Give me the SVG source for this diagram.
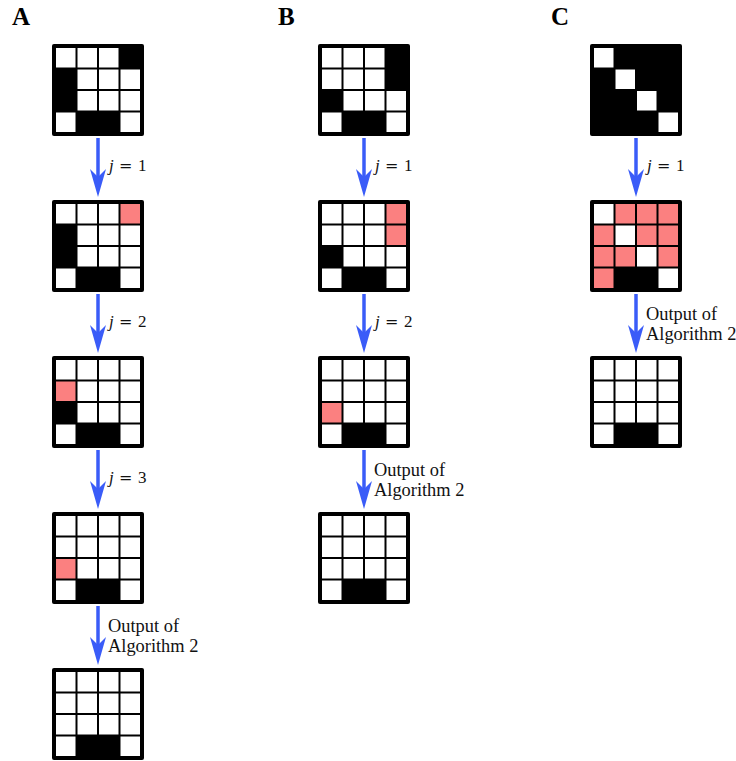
<svg xmlns="http://www.w3.org/2000/svg" width="736" height="761" viewBox="0 0 736 761">
<style>
.f{fill:#000}
.w{fill:#fff}
.r{fill:#fb8080}
.sh{stroke:#3a5cf8;stroke-width:3.5;fill:none}
.hd{fill:#3a5cf8}
.lbl{font-family:"Liberation Serif","Times New Roman",serif;font-size:17px;fill:#111}
.out{font-size:18.4px}
.eq{font-family:"DejaVu Serif",serif;font-size:16px}
.pl{font-family:"Liberation Serif","Times New Roman",serif;font-size:25px;font-weight:bold;fill:#000}
</style>
<rect width="736" height="761" fill="#fff"/>
<text class="pl" x="12" y="25">A</text>
<text class="pl" x="278" y="25">B</text>
<text class="pl" x="551" y="25">C</text>

<!-- Column A -->
<g id="A1" transform="translate(52,44)">
<rect class="f" width="92" height="92" rx="2"/>
<rect class="w" x="4" y="4" width="19.5" height="19.5"/><rect class="w" x="25.5" y="4" width="19.5" height="19.5"/><rect class="w" x="47" y="4" width="19.5" height="19.5"/>
<rect class="w" x="25.5" y="25.5" width="19.5" height="19.5"/><rect class="w" x="47" y="25.5" width="19.5" height="19.5"/><rect class="w" x="68.5" y="25.5" width="19.5" height="19.5"/>
<rect class="w" x="25.5" y="47" width="19.5" height="19.5"/><rect class="w" x="47" y="47" width="19.5" height="19.5"/><rect class="w" x="68.5" y="47" width="19.5" height="19.5"/>
<rect class="w" x="4" y="68.5" width="19.5" height="19.5"/><rect class="w" x="68.5" y="68.5" width="19.5" height="19.5"/>
</g>
<g id="A2" transform="translate(52,200)">
<rect class="f" width="92" height="92" rx="2"/>
<rect class="w" x="4" y="4" width="19.5" height="19.5"/><rect class="w" x="25.5" y="4" width="19.5" height="19.5"/><rect class="w" x="47" y="4" width="19.5" height="19.5"/><rect class="r" x="68.5" y="4" width="19.5" height="19.5"/>
<rect class="w" x="25.5" y="25.5" width="19.5" height="19.5"/><rect class="w" x="47" y="25.5" width="19.5" height="19.5"/><rect class="w" x="68.5" y="25.5" width="19.5" height="19.5"/>
<rect class="w" x="25.5" y="47" width="19.5" height="19.5"/><rect class="w" x="47" y="47" width="19.5" height="19.5"/><rect class="w" x="68.5" y="47" width="19.5" height="19.5"/>
<rect class="w" x="4" y="68.5" width="19.5" height="19.5"/><rect class="w" x="68.5" y="68.5" width="19.5" height="19.5"/>
</g>
<g id="A3" transform="translate(52,356)">
<rect class="f" width="92" height="92" rx="2"/>
<rect class="w" x="4" y="4" width="19.5" height="19.5"/><rect class="w" x="25.5" y="4" width="19.5" height="19.5"/><rect class="w" x="47" y="4" width="19.5" height="19.5"/><rect class="w" x="68.5" y="4" width="19.5" height="19.5"/>
<rect class="r" x="4" y="25.5" width="19.5" height="19.5"/><rect class="w" x="25.5" y="25.5" width="19.5" height="19.5"/><rect class="w" x="47" y="25.5" width="19.5" height="19.5"/><rect class="w" x="68.5" y="25.5" width="19.5" height="19.5"/>
<rect class="w" x="25.5" y="47" width="19.5" height="19.5"/><rect class="w" x="47" y="47" width="19.5" height="19.5"/><rect class="w" x="68.5" y="47" width="19.5" height="19.5"/>
<rect class="w" x="4" y="68.5" width="19.5" height="19.5"/><rect class="w" x="68.5" y="68.5" width="19.5" height="19.5"/>
</g>
<g id="A4" transform="translate(52,512)">
<rect class="f" width="92" height="92" rx="2"/>
<rect class="w" x="4" y="4" width="19.5" height="19.5"/><rect class="w" x="25.5" y="4" width="19.5" height="19.5"/><rect class="w" x="47" y="4" width="19.5" height="19.5"/><rect class="w" x="68.5" y="4" width="19.5" height="19.5"/>
<rect class="w" x="4" y="25.5" width="19.5" height="19.5"/><rect class="w" x="25.5" y="25.5" width="19.5" height="19.5"/><rect class="w" x="47" y="25.5" width="19.5" height="19.5"/><rect class="w" x="68.5" y="25.5" width="19.5" height="19.5"/>
<rect class="r" x="4" y="47" width="19.5" height="19.5"/><rect class="w" x="25.5" y="47" width="19.5" height="19.5"/><rect class="w" x="47" y="47" width="19.5" height="19.5"/><rect class="w" x="68.5" y="47" width="19.5" height="19.5"/>
<rect class="w" x="4" y="68.5" width="19.5" height="19.5"/><rect class="w" x="68.5" y="68.5" width="19.5" height="19.5"/>
</g>
<g id="A5" transform="translate(52,668)">
<rect class="f" width="92" height="92" rx="2"/>
<rect class="w" x="4" y="4" width="19.5" height="19.5"/><rect class="w" x="25.5" y="4" width="19.5" height="19.5"/><rect class="w" x="47" y="4" width="19.5" height="19.5"/><rect class="w" x="68.5" y="4" width="19.5" height="19.5"/>
<rect class="w" x="4" y="25.5" width="19.5" height="19.5"/><rect class="w" x="25.5" y="25.5" width="19.5" height="19.5"/><rect class="w" x="47" y="25.5" width="19.5" height="19.5"/><rect class="w" x="68.5" y="25.5" width="19.5" height="19.5"/>
<rect class="w" x="4" y="47" width="19.5" height="19.5"/><rect class="w" x="25.5" y="47" width="19.5" height="19.5"/><rect class="w" x="47" y="47" width="19.5" height="19.5"/><rect class="w" x="68.5" y="47" width="19.5" height="19.5"/>
<rect class="w" x="4" y="68.5" width="19.5" height="19.5"/><rect class="w" x="68.5" y="68.5" width="19.5" height="19.5"/>
</g>

<!-- Column B -->
<g id="B1" transform="translate(318,44)">
<rect class="f" width="92" height="92" rx="2"/>
<rect class="w" x="4" y="4" width="19.5" height="19.5"/><rect class="w" x="25.5" y="4" width="19.5" height="19.5"/><rect class="w" x="47" y="4" width="19.5" height="19.5"/>
<rect class="w" x="4" y="25.5" width="19.5" height="19.5"/><rect class="w" x="25.5" y="25.5" width="19.5" height="19.5"/><rect class="w" x="47" y="25.5" width="19.5" height="19.5"/>
<rect class="w" x="25.5" y="47" width="19.5" height="19.5"/><rect class="w" x="47" y="47" width="19.5" height="19.5"/><rect class="w" x="68.5" y="47" width="19.5" height="19.5"/>
<rect class="w" x="4" y="68.5" width="19.5" height="19.5"/><rect class="w" x="68.5" y="68.5" width="19.5" height="19.5"/>
</g>
<g id="B2" transform="translate(318,200)">
<rect class="f" width="92" height="92" rx="2"/>
<rect class="w" x="4" y="4" width="19.5" height="19.5"/><rect class="w" x="25.5" y="4" width="19.5" height="19.5"/><rect class="w" x="47" y="4" width="19.5" height="19.5"/><rect class="r" x="68.5" y="4" width="19.5" height="19.5"/>
<rect class="w" x="4" y="25.5" width="19.5" height="19.5"/><rect class="w" x="25.5" y="25.5" width="19.5" height="19.5"/><rect class="w" x="47" y="25.5" width="19.5" height="19.5"/><rect class="r" x="68.5" y="25.5" width="19.5" height="19.5"/>
<rect class="w" x="25.5" y="47" width="19.5" height="19.5"/><rect class="w" x="47" y="47" width="19.5" height="19.5"/><rect class="w" x="68.5" y="47" width="19.5" height="19.5"/>
<rect class="w" x="4" y="68.5" width="19.5" height="19.5"/><rect class="w" x="68.5" y="68.5" width="19.5" height="19.5"/>
</g>
<g id="B3" transform="translate(318,356)">
<rect class="f" width="92" height="92" rx="2"/>
<rect class="w" x="4" y="4" width="19.5" height="19.5"/><rect class="w" x="25.5" y="4" width="19.5" height="19.5"/><rect class="w" x="47" y="4" width="19.5" height="19.5"/><rect class="w" x="68.5" y="4" width="19.5" height="19.5"/>
<rect class="w" x="4" y="25.5" width="19.5" height="19.5"/><rect class="w" x="25.5" y="25.5" width="19.5" height="19.5"/><rect class="w" x="47" y="25.5" width="19.5" height="19.5"/><rect class="w" x="68.5" y="25.5" width="19.5" height="19.5"/>
<rect class="r" x="4" y="47" width="19.5" height="19.5"/><rect class="w" x="25.5" y="47" width="19.5" height="19.5"/><rect class="w" x="47" y="47" width="19.5" height="19.5"/><rect class="w" x="68.5" y="47" width="19.5" height="19.5"/>
<rect class="w" x="4" y="68.5" width="19.5" height="19.5"/><rect class="w" x="68.5" y="68.5" width="19.5" height="19.5"/>
</g>
<g id="B4" transform="translate(318,512)">
<rect class="f" width="92" height="92" rx="2"/>
<rect class="w" x="4" y="4" width="19.5" height="19.5"/><rect class="w" x="25.5" y="4" width="19.5" height="19.5"/><rect class="w" x="47" y="4" width="19.5" height="19.5"/><rect class="w" x="68.5" y="4" width="19.5" height="19.5"/>
<rect class="w" x="4" y="25.5" width="19.5" height="19.5"/><rect class="w" x="25.5" y="25.5" width="19.5" height="19.5"/><rect class="w" x="47" y="25.5" width="19.5" height="19.5"/><rect class="w" x="68.5" y="25.5" width="19.5" height="19.5"/>
<rect class="w" x="4" y="47" width="19.5" height="19.5"/><rect class="w" x="25.5" y="47" width="19.5" height="19.5"/><rect class="w" x="47" y="47" width="19.5" height="19.5"/><rect class="w" x="68.5" y="47" width="19.5" height="19.5"/>
<rect class="w" x="4" y="68.5" width="19.5" height="19.5"/><rect class="w" x="68.5" y="68.5" width="19.5" height="19.5"/>
</g>

<!-- Column C -->
<g id="C1" transform="translate(590,44)">
<rect class="f" width="92" height="92" rx="2"/>
<rect class="w" x="4" y="4" width="19.5" height="19.5"/>
<rect class="w" x="25.5" y="25.5" width="19.5" height="19.5"/>
<rect class="w" x="47" y="47" width="19.5" height="19.5"/>
<rect class="w" x="68.5" y="68.5" width="19.5" height="19.5"/>
</g>
<g id="C2" transform="translate(590,200)">
<rect class="f" width="92" height="92" rx="2"/>
<rect class="w" x="4" y="4" width="19.5" height="19.5"/><rect class="r" x="25.5" y="4" width="19.5" height="19.5"/><rect class="r" x="47" y="4" width="19.5" height="19.5"/><rect class="r" x="68.5" y="4" width="19.5" height="19.5"/>
<rect class="r" x="4" y="25.5" width="19.5" height="19.5"/><rect class="w" x="25.5" y="25.5" width="19.5" height="19.5"/><rect class="r" x="47" y="25.5" width="19.5" height="19.5"/><rect class="r" x="68.5" y="25.5" width="19.5" height="19.5"/>
<rect class="r" x="4" y="47" width="19.5" height="19.5"/><rect class="r" x="25.5" y="47" width="19.5" height="19.5"/><rect class="w" x="47" y="47" width="19.5" height="19.5"/><rect class="r" x="68.5" y="47" width="19.5" height="19.5"/>
<rect class="r" x="4" y="68.5" width="19.5" height="19.5"/><rect class="w" x="68.5" y="68.5" width="19.5" height="19.5"/>
</g>
<g id="C3" transform="translate(590,356)">
<rect class="f" width="92" height="92" rx="2"/>
<rect class="w" x="4" y="4" width="19.5" height="19.5"/><rect class="w" x="25.5" y="4" width="19.5" height="19.5"/><rect class="w" x="47" y="4" width="19.5" height="19.5"/><rect class="w" x="68.5" y="4" width="19.5" height="19.5"/>
<rect class="w" x="4" y="25.5" width="19.5" height="19.5"/><rect class="w" x="25.5" y="25.5" width="19.5" height="19.5"/><rect class="w" x="47" y="25.5" width="19.5" height="19.5"/><rect class="w" x="68.5" y="25.5" width="19.5" height="19.5"/>
<rect class="w" x="4" y="47" width="19.5" height="19.5"/><rect class="w" x="25.5" y="47" width="19.5" height="19.5"/><rect class="w" x="47" y="47" width="19.5" height="19.5"/><rect class="w" x="68.5" y="47" width="19.5" height="19.5"/>
<rect class="w" x="4" y="68.5" width="19.5" height="19.5"/><rect class="w" x="68.5" y="68.5" width="19.5" height="19.5"/>
</g>

<!-- Connectors -->
<g id="connectors">
<path class="sh" d="M98 138V178"/><path class="hd" d="M98 197L90 169L98 177L106 169Z"/>
<path class="sh" d="M98 294V334"/><path class="hd" d="M98 353L90 325L98 333L106 325Z"/>
<path class="sh" d="M98 450V490"/><path class="hd" d="M98 509L90 481L98 489L106 481Z"/>
<path class="sh" d="M98 606V646"/><path class="hd" d="M98 665L90 637L98 645L106 637Z"/>
<path class="sh" d="M364 138V178"/><path class="hd" d="M364 197L356 169L364 177L372 169Z"/>
<path class="sh" d="M364 294V334"/><path class="hd" d="M364 353L356 325L364 333L372 325Z"/>
<path class="sh" d="M364 450V490"/><path class="hd" d="M364 509L356 481L364 489L372 481Z"/>
<path class="sh" d="M636 138V178"/><path class="hd" d="M636 197L628 169L636 177L644 169Z"/>
<path class="sh" d="M636 294V334"/><path class="hd" d="M636 353L628 325L636 333L644 325Z"/>
</g>

<!-- Labels -->
<g id="labels">
<text class="lbl" x="109" y="171"><tspan font-style="italic">j</tspan><tspan class="eq" x="119">=</tspan><tspan x="138">1</tspan></text>
<text class="lbl" x="109" y="327"><tspan font-style="italic">j</tspan><tspan class="eq" x="119">=</tspan><tspan x="138">2</tspan></text>
<text class="lbl" x="109" y="483"><tspan font-style="italic">j</tspan><tspan class="eq" x="119">=</tspan><tspan x="138">3</tspan></text>
<text class="lbl out" x="108" y="632">Output of</text>
<text class="lbl out" x="108" y="652">Algorithm 2</text>
<text class="lbl" x="375" y="171"><tspan font-style="italic">j</tspan><tspan class="eq" x="385">=</tspan><tspan x="404">1</tspan></text>
<text class="lbl" x="375" y="327"><tspan font-style="italic">j</tspan><tspan class="eq" x="385">=</tspan><tspan x="404">2</tspan></text>
<text class="lbl out" x="374" y="476">Output of</text>
<text class="lbl out" x="374" y="496">Algorithm 2</text>
<text class="lbl" x="647" y="171"><tspan font-style="italic">j</tspan><tspan class="eq" x="657">=</tspan><tspan x="676">1</tspan></text>
<text class="lbl out" x="646" y="320">Output of</text>
<text class="lbl out" x="646" y="340">Algorithm 2</text>
</g>
</svg>
